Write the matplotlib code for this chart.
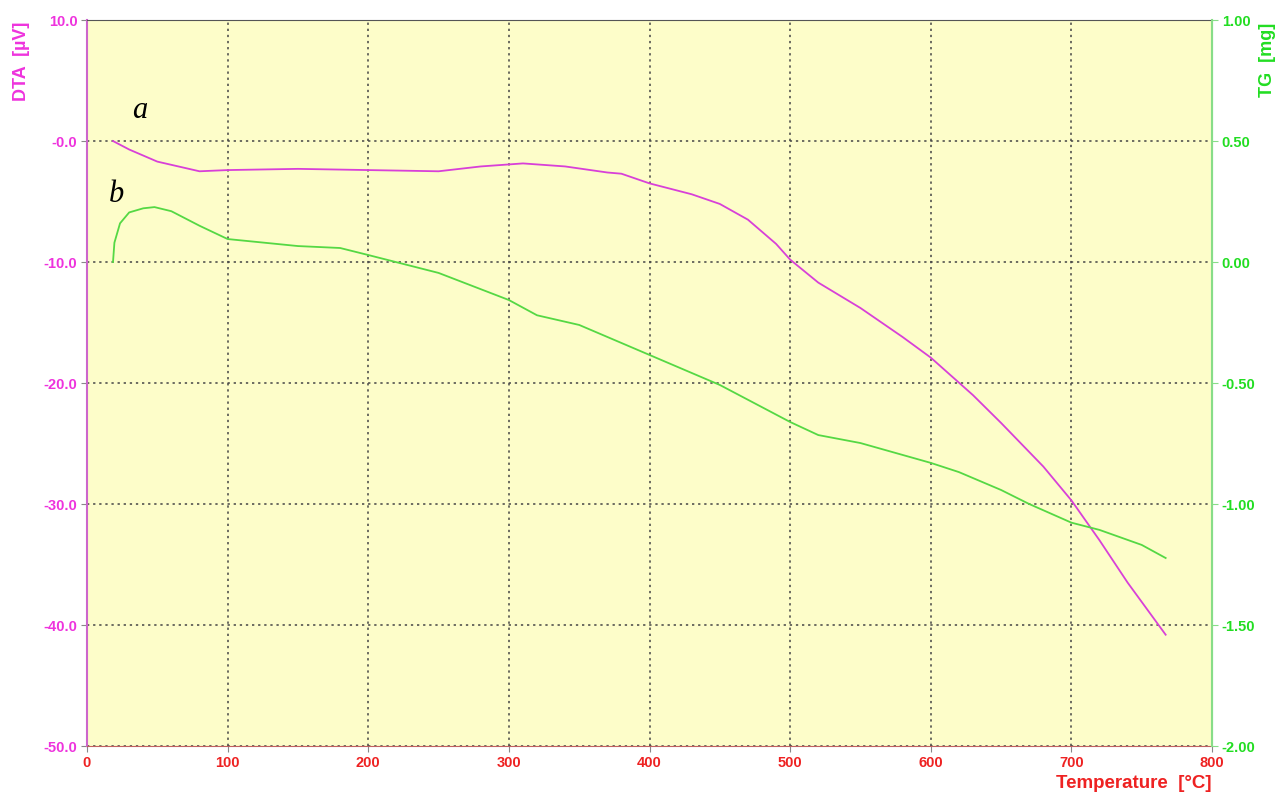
import numpy as np
import matplotlib
matplotlib.use("Agg")
import matplotlib.pyplot as plt

# -----------------------------
# DATA
# -----------------------------
dta_temp = [18.5, 30, 50, 80, 100, 150, 200, 250, 280, 310, 340, 370, 380, 400, 430,
            450, 470, 490, 500, 520, 550, 580, 600, 630, 650, 680, 700, 720, 740, 767]
dta_val = [0.0, -0.7, -1.7, -2.5, -2.4, -2.3, -2.4, -2.5, -2.1, -1.85, -2.1, -2.6, -2.7,
           -3.5, -4.4, -5.2, -6.5, -8.5, -9.8, -11.7, -13.8, -16.2, -17.9, -21.0, -23.3,
           -26.9, -29.7, -33.0, -36.5, -40.8]

tg_temp = [18.5, 19.5, 23.5, 30, 40, 48, 60, 80, 100, 150, 180, 200, 250, 300, 320, 350,
           400, 450, 500, 520, 550, 600, 620, 650, 670, 700, 720, 750, 767]
tg_val = [0.0, 0.08, 0.16, 0.205, 0.222, 0.227, 0.21, 0.15, 0.095, 0.066, 0.058, 0.029,
          -0.045, -0.157, -0.22, -0.26, -0.384, -0.508, -0.661, -0.715, -0.748, -0.83,
          -0.868, -0.942, -1.0, -1.077, -1.107, -1.169, -1.223]

x_ticks = [0, 100, 200, 300, 400, 500, 600, 700, 800]
dta_ticks = [10, 0, -10, -20, -30, -40, -50]
dta_labels = ["10.0", "-0.0", "-10.0", "-20.0", "-30.0", "-40.0", "-50.0"]
tg_ticks = [1.0, 0.5, 0.0, -0.5, -1.0, -1.5, -2.0]
tg_labels = ["1.00", "0.50", "0.00", "-0.50", "-1.00", "-1.50", "-2.00"]

# -----------------------------
# STYLE
# -----------------------------
plt.rcParams['font.family'] = ['Liberation Sans', 'DejaVu Sans']
magenta = '#ee33dd'
dta_line = '#d840d8'
green = '#22dd22'
tg_line = '#55d844'
red = '#ee2222'
bg = '#fdfdc9'

fig = plt.figure(figsize=(12.83, 7.95), dpi=100)
ax = fig.add_axes([0.0678, 0.0616, 0.8769, 0.9132])
ax.set_facecolor(bg)

ax.plot(dta_temp, dta_val, color=dta_line, lw=1.3)
ax.set_xlim(0, 800)
ax.set_ylim(-50, 10)
ax.set_xticks(x_ticks)
ax.set_xticklabels([str(t) for t in x_ticks], fontsize=10.5, fontweight='bold')
ax.set_yticks(dta_ticks)
ax.set_yticklabels(dta_labels, fontsize=10.5, fontweight='bold')
ax.tick_params(axis='y', colors='#888888', labelcolor=magenta, length=4, pad=3)
ax.tick_params(axis='x', colors='#888888', labelcolor=red, length=4, pad=3)
ax.grid(True, color='#444444', linestyle=(0, (1.5, 2.5)), linewidth=1.1)

ax.spines['left'].set_color('#cc66cc')
ax.spines['left'].set_linewidth(1.5)
ax.spines['bottom'].set_color('#c06060')
ax.spines['top'].set_color('#555555')
ax.spines['right'].set_color('#88dd88')

ax2 = ax.twinx()
ax2.plot(tg_temp, tg_val, color=tg_line, lw=1.3)
ax2.set_ylim(-2.0, 1.0)
ax2.set_yticks(tg_ticks)
ax2.set_yticklabels(tg_labels, fontsize=10.5, fontweight='bold')
ax2.tick_params(axis='y', colors='#88dd88', labelcolor=green, length=4, pad=3)
ax2.spines['right'].set_color('#88dd88')
ax2.spines['right'].set_linewidth(1.5)
ax2.spines['left'].set_visible(False)
ax2.spines['top'].set_visible(False)
ax2.spines['bottom'].set_visible(False)

# axis titles
fig.text(0.017, 0.923, "DTA  [µV]", rotation=90, color=magenta, fontsize=13,
         fontweight='bold', ha='center', va='center')
fig.text(0.988, 0.925, "TG  [mg]", rotation=90, color=green, fontsize=13,
         fontweight='bold', ha='center', va='center')
fig.text(0.944, 0.004, "Temperature  [°C]", color=red, fontsize=13.5,
         fontweight='bold', ha='right', va='bottom')

# curve labels
ax.text(37.7, 1.9, "a", family='Liberation Serif', style='italic', fontsize=22,
        ha='center', va='baseline')
ax.text(21.3, -5.04, "b", family='Liberation Serif', style='italic', fontsize=22,
        ha='center', va='baseline')

plt.savefig("out.png", dpi=100)
